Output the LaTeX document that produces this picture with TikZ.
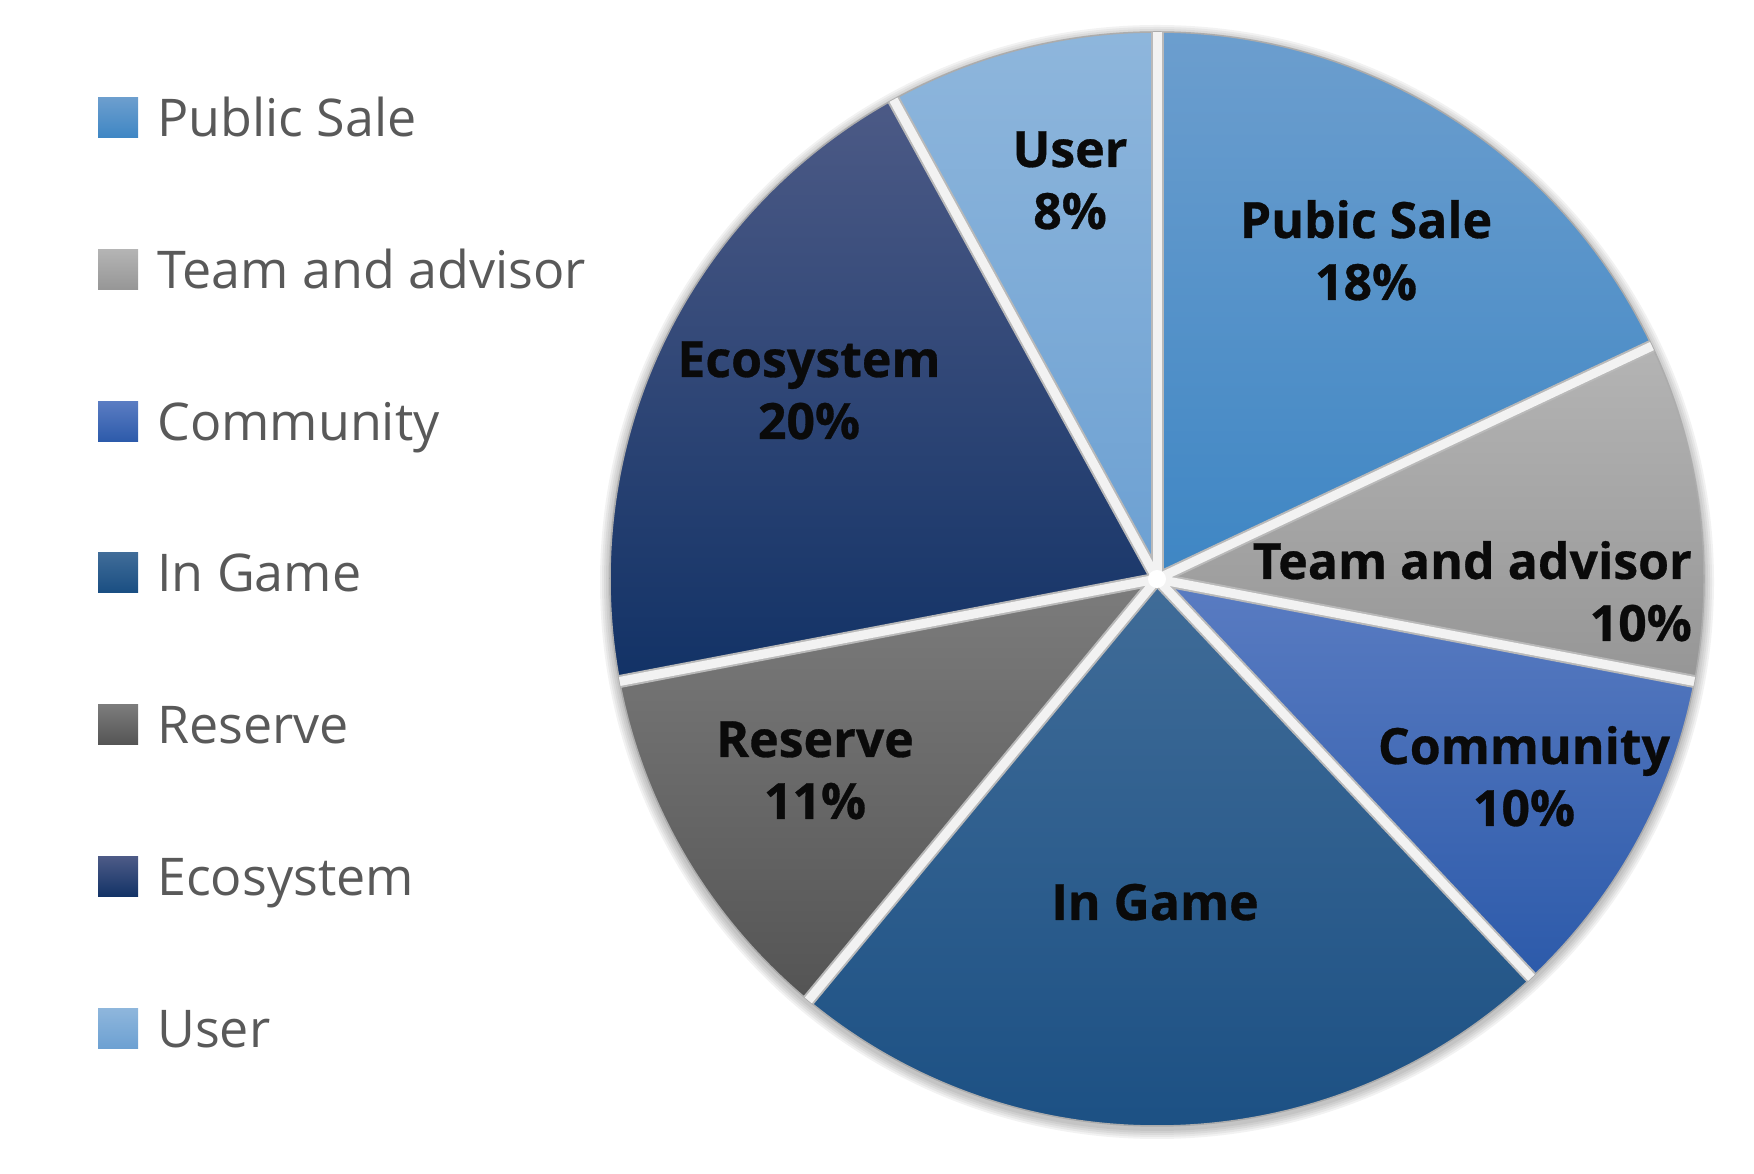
\documentclass[tikz,border=0pt]{standalone}
\usepackage{fontspec}
\setmainfont{Open Sans}
\newfontfamily\labfont[FakeBold=0.6]{Open Sans Bold}
\usetikzlibrary{calc}
\definecolor{psT}{RGB}{108,158,206}\definecolor{psB}{RGB}{62,134,196}
\definecolor{tmT}{RGB}{180,180,180}\definecolor{tmB}{RGB}{150,150,150}
\definecolor{cmT}{RGB}{90,124,194}\definecolor{cmB}{RGB}{44,90,170}
\definecolor{igT}{RGB}{64,108,152}\definecolor{igB}{RGB}{25,78,130}
\definecolor{rsT}{RGB}{124,124,124}\definecolor{rsB}{RGB}{84,84,84}
\definecolor{ecT}{RGB}{76,90,134}\definecolor{ecM}{RGB}{30,60,112}\definecolor{ecB}{RGB}{18,50,102}
\definecolor{usT}{RGB}{142,182,220}\definecolor{usB}{RGB}{108,160,210}
\definecolor{legendgray}{RGB}{89,89,89}
\definecolor{labblack}{RGB}{10,10,10}
\begin{document}
\begin{tikzpicture}[x=1pt,y=1pt,
  legsq/.style={minimum width=40pt, minimum height=40pt, inner sep=0pt, outer sep=0pt},
  legtxt/.style={anchor=base west, inner sep=0pt, text=legendgray, font=\fontsize{52}{62}\selectfont},
  lab/.style={anchor=base, inner sep=0pt, text=labblack, font=\labfont\fontsize{50}{62}\selectfont},
  sepdark/.style={draw=gray!55, line width=13pt},
  seplight/.style={draw=gray!10, line width=9pt},
  rim/.style={draw=gray!65, line width=1.5pt},
  shadowring/.style={fill=black, opacity=0.05}]
\useasboundingbox (0,0) rectangle (1754,1173);
\coordinate (C) at (1157,594);
\def\R{547}
% shadow
\foreach \d in {10,8,6,4,2} {\fill[shadowring] ($(C)+(0,-3)$) circle[radius=\R+\d];}
% slices
\fill[top color=psT, bottom color=psB] (C) -- ++(25.2:\R) arc[start angle=25.2, end angle=90, radius=\R] -- cycle;
\fill[top color=tmT, bottom color=tmB] (C) -- ++(-10.8:\R) arc[start angle=-10.8, end angle=25.2, radius=\R] -- cycle;
\fill[top color=cmT, bottom color=cmB] (C) -- ++(-46.8:\R) arc[start angle=-46.8, end angle=-10.8, radius=\R] -- cycle;
\fill[top color=igT, bottom color=igB] (C) -- ++(-129.6:\R) arc[start angle=-129.6, end angle=-46.8, radius=\R] -- cycle;
\fill[top color=rsT, bottom color=rsB] (C) -- ++(-169.2:\R) arc[start angle=-169.2, end angle=-129.6, radius=\R] -- cycle;
\fill[top color=ecT, middle color=ecM, bottom color=ecB] (C) -- ++(118.8:\R) arc[start angle=118.8, end angle=190.8, radius=\R] -- cycle;
\fill[top color=usT, bottom color=usB] (C) -- ++(90:\R) arc[start angle=90, end angle=118.8, radius=\R] -- cycle;
\draw[rim] (C) circle[radius=\R];
\foreach \a in {90,25.2,-10.8,-46.8,-129.6,-169.2,118.8} {\draw[sepdark] (C) -- ++(\a:\R);}
\foreach \a in {90,25.2,-10.8,-46.8,-129.6,-169.2,118.8} {\draw[seplight] (C) -- ++(\a:\R);}
\fill[white] (C) circle[radius=9];
% labels
\node[lab] (lps) at (1366,935) {\begin{tabular}[t]{@{}c@{}}Pubic Sale\\18\%\end{tabular}};
\node[lab, anchor=base east] (ltm) at (1692,594) {\begin{tabular}[t]{@{}r@{}}Team and advisor\\10\%\end{tabular}};
\node[lab] (lcm) at (1524,409) {\begin{tabular}[t]{@{}c@{}}Community\\10\%\end{tabular}};
\node[lab] (lig) at (1155,253) {In Game};
\node[lab] (lrs) at (815,416) {\begin{tabular}[t]{@{}c@{}}Reserve\\11\%\end{tabular}};
\node[lab] (lec) at (809,796) {\begin{tabular}[t]{@{}c@{}}Ecosystem\\20\%\end{tabular}};
\node[lab] (lus) at (1070,1006) {\begin{tabular}[t]{@{}c@{}}User\\8\%\end{tabular}};
% legend
\node[legsq, top color=psT, bottom color=psB] (q1) at (118,1055) {};
\node[legsq, top color=tmT, bottom color=tmB] (q2) at (118,903) {};
\node[legsq, top color=cmT, bottom color=cmB] (q3) at (118,751) {};
\node[legsq, top color=igT, bottom color=igB] (q4) at (118,600) {};
\node[legsq, top color=rsT, bottom color=rsB] (q5) at (118,448) {};
\node[legsq, top color=ecT, middle color=ecM, bottom color=ecB] (q6) at (118,296) {};
\node[legsq, top color=usT, bottom color=usB] (q7) at (118,144) {};
\node[legtxt] (t1) at (157,1036) {Public Sale};
\node[legtxt] (t2) at (157,884) {Team and advisor};
\node[legtxt] (t3) at (157,732) {Community};
\node[legtxt] (t4) at (157,581) {In Game};
\node[legtxt] (t5) at (157,429) {Reserve};
\node[legtxt] (t6) at (157,277) {Ecosystem};
\node[legtxt] (t7) at (157,125) {User};
\end{tikzpicture}
\end{document}
